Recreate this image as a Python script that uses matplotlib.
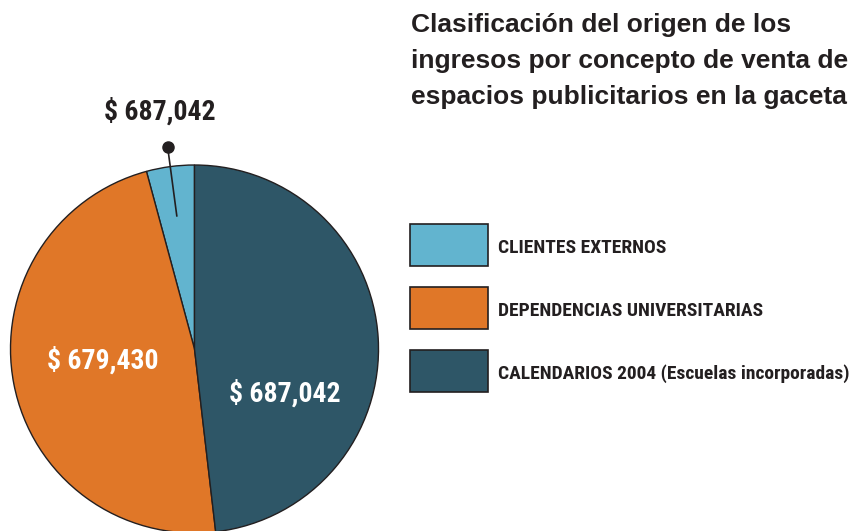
import numpy as np
import matplotlib
matplotlib.use("Agg")
import matplotlib.pyplot as plt
from matplotlib.patches import Rectangle
from matplotlib import font_manager as fm

# data
categories = ["CLIENTES EXTERNOS", "DEPENDENCIAS UNIVERSITARIAS",
              "CALENDARIOS 2004 (Escuelas incorporadas)"]
sizes = [60000, 679430, 687042]          # first slice
value_labels = ["$ 687,042", "$ 679,430", "$ 687,042"]  # as printed on the chart
colors = ["#62b4cf", "#e07728", "#2e5667"]
title = "Clasificación del origen de los\ningresos por concepto de venta de\nespacios publicitarios en la gaceta"

ink = "#231f20"


def condensed_bold():
    # look for any installed narrow/condensed bold face
    found = []
    for f in fm.fontManager.ttflist:
        name = (f.name + " " + f.fname).lower()
        narrow = ("narrow" in name or "condensed" in name
                  or f.stretch in ("condensed", "semi-condensed", "extra-condensed"))
        w = f.weight if isinstance(f.weight, int) else {"bold": 700}.get(f.weight, 400)
        if narrow and w >= 600 and "italic" not in name and "oblique" not in name:
            found.append(f.fname)
    prefs = ["liberationsansnarrow", "robotocondensed", "opensans_condensed",
             "opensanscondensed", "dejavusanscondensed", "notosans"]
    for p in prefs:
        for fn in found:
            if p in fn.lower().replace("-", "").replace(" ", ""):
                return fm.FontProperties(fname=fn)
    if found:
        return fm.FontProperties(fname=found[0])
    return None


cb = condensed_bold()


def label_font(size):
    if cb is not None:
        fp = cb.copy()
        fp.set_size(size)
        return fp
    return fm.FontProperties(family="Liberation Sans", weight="bold", size=size * 0.85)


fig = plt.figure(figsize=(8.52, 5.31), dpi=100)

# pie axes: centre (194.5, 349) px, radius 184 px
W, H = 852, 531
r_px = 184
cx, cy = 194.5, 531 - 349
ax = fig.add_axes([(cx - r_px) / W, (cy - r_px) / H, 2 * r_px / W, 2 * r_px / H])
wedges, _ = ax.pie(sizes, colors=colors, startangle=90, counterclock=True,
                   wedgeprops=dict(edgecolor=ink, linewidth=1.0))
ax.set_xlim(-1, 1)
ax.set_ylim(-1, 1)
ax.set_aspect("equal")
ax.axis("off")
for w in wedges:
    w.set_clip_on(False)

# leader for the small slice
w0 = wedges[0]
mid = np.deg2rad((w0.theta1 + w0.theta2) / 2)
ax.plot([0.73 * np.cos(mid), 1.11 * np.cos(mid)],
        [0.73 * np.sin(mid), 1.11 * np.sin(mid)],
        color=ink, lw=1.2, clip_on=False)
ax.plot(1.11 * np.cos(mid), 1.11 * np.sin(mid), "o", color=ink, ms=8, clip_on=False)
ax.text(-0.19, 1.29, value_labels[0], ha="center", va="center",
        fontproperties=label_font(20), color=ink, clip_on=False)

ax.text(-0.50, -0.06, value_labels[1], ha="center", va="center",
        fontproperties=label_font(20), color="white")
ax.text(0.49, -0.24, value_labels[2], ha="center", va="center",
        fontproperties=label_font(20), color="white")

# title
fig.text(411 / W, 1 - 13 / H, title, ha="left", va="top", fontsize=19,
         fontweight="bold", family="Liberation Sans", color=ink, linespacing=1.62)

# legend boxes
box_y = [224, 287, 350]
for cat, col, y in zip(categories, colors, box_y):
    fig.patches.append(Rectangle((410 / W, 1 - (y + 42) / H), 78 / W, 42 / H,
                                 transform=fig.transFigure, facecolor=col,
                                 edgecolor=ink, linewidth=1.2))
    fig.text(498 / W, 1 - (y + 24) / H, cat, ha="left", va="center",
             fontproperties=label_font(14), color=ink)

fig.savefig("out.png", dpi=100)
